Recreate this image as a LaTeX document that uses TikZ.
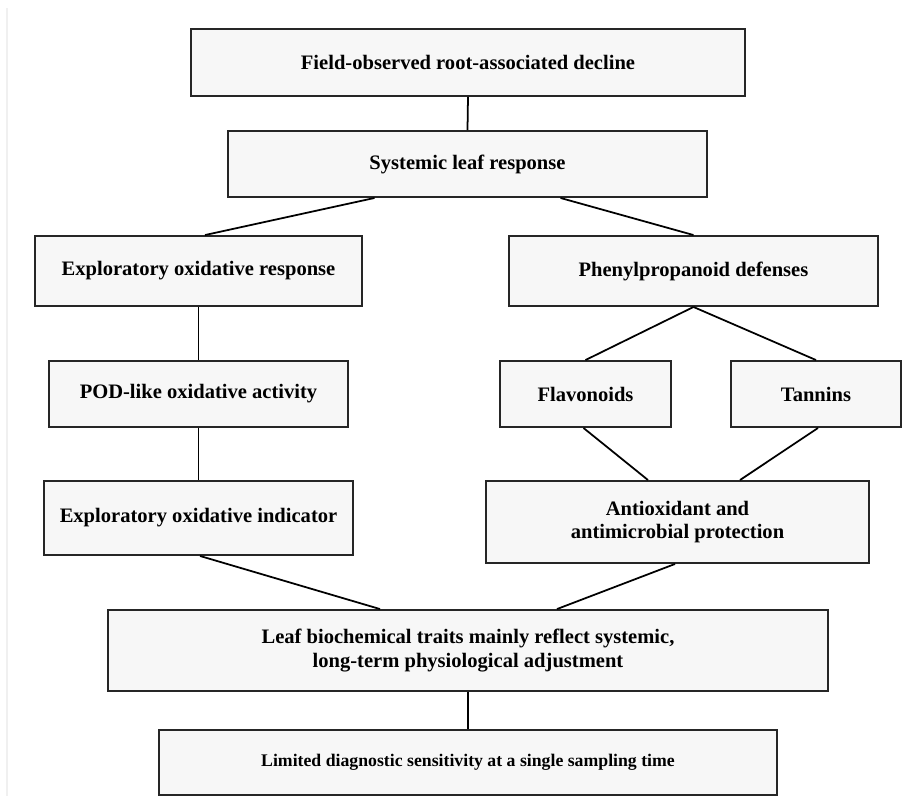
\documentclass[tikz,border=0pt]{standalone}
\usepackage{fontspec}
\setmainfont{Liberation Serif}
\usetikzlibrary{calc, shadows}

\begin{document}
\begin{tikzpicture}[x=0.02cm, y=-0.02cm,
    every node/.style={rectangle, draw=black!85, line width=1.1pt, fill=black!3,
      align=center, font=\bfseries\fontsize{11.7}{13.4}\selectfont,
      drop shadow={shadow xshift=0.7pt, shadow yshift=-0.7pt, fill=black!35, opacity=.7}},
    link/.style={draw=black, line width=1pt}]
        \useasboundingbox (0,0) rectangle (914,796);
        \draw[black!6, line width=0.6pt] (7,8) -- (7,796);

        \node[minimum width=11.08cm, minimum height=1.34cm] (F) at (468,62.5) {Field-observed root-associated decline};
        \node[minimum width=9.58cm, minimum height=1.32cm] (S) at (467.5,164) {Systemic leaf response};

        \node[minimum width=6.54cm, minimum height=1.4cm] (E1) at (198.5,271) {Exploratory oxidative response};
        \node[minimum width=5.98cm, minimum height=1.32cm] (E2) at (198.5,394) {POD-like oxidative activity};
        \node[minimum width=6.18cm, minimum height=1.48cm] (E3) at (198.5,518) {Exploratory oxidative indicator};

        \node[minimum width=7.38cm, minimum height=1.4cm] (P1) at (693.5,271) {Phenylpropanoid defenses};
        \node[minimum width=3.42cm, minimum height=1.32cm] (P2) at (585.5,394) {Flavonoids};
        \node[minimum width=3.4cm, minimum height=1.32cm] (P3) at (816,394) {Tannins};
        \node[minimum width=7.66cm, minimum height=1.64cm] (P4) at (677.5,522) {Antioxidant and\\antimicrobial protection};

        \node[minimum width=14.4cm, minimum height=1.62cm] (L) at (468,650.5) {Leaf biochemical traits mainly reflect systemic,\\long-term physiological adjustment};
        \node[minimum width=12.36cm, minimum height=1.3cm, font=\bfseries\fontsize{10.1}{12}\selectfont] (D) at (468,762.5) {Limited diagnostic sensitivity at a single sampling time};

        \foreach \a/\b in {F/S, E1/E2, E2/E3, L/D, P1/P2, P1/P3}
          \draw[link] (\a.south) -- (\b.north);

        \draw[link] ($(S.south)+(-93,0)$) -- ($(E1.north)+(6.5,0)$);
        \draw[link] ($(S.south)+(93,0)$) -- (P1.north);
        \draw[link] ($(P2.south)+(-2,0)$) -- ($(P4.north)+(-29.5,0)$);
        \draw[link] ($(P3.south)+(2,0)$) -- ($(P4.north)+(62.5,0)$);
        \draw[link] ($(E3.south)+(1.5,0)$) -- ($(L.north)+(-88,0)$);
        \draw[link] ($(P4.south)+(-2.5,0)$) -- ($(L.north)+(89,0)$);
      \end{tikzpicture}
\end{document}
